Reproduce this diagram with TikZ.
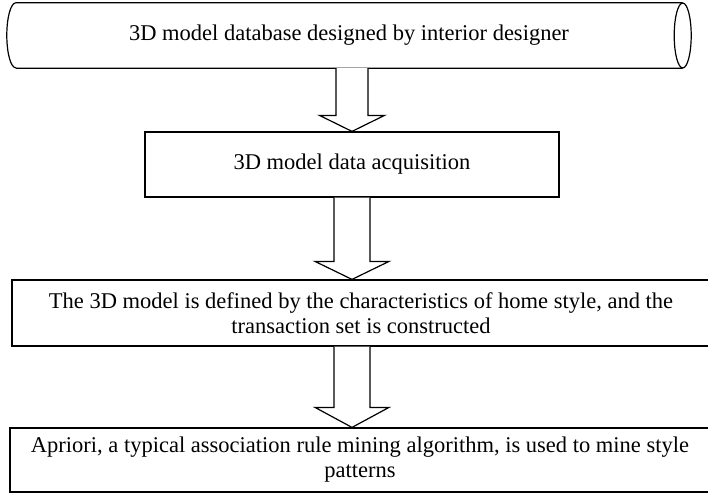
\documentclass[tikz,border=0pt]{standalone}
\usepackage{fontspec}
\setmainfont{Liberation Serif}
\usetikzlibrary{calc}
\begin{document}
\begin{tikzpicture}[x=1pt,y=-1pt,
  every node/.style={font=\fontsize{22.5}{25}\selectfont},
  boxnode/.style={draw, line width=1.2pt, align=center, inner sep=0pt},
  outline/.style={line width=1.2pt},
  blockarrow/.style={draw, fill=white, line width=1.2pt, line join=miter}]
\useasboundingbox (0,0) rectangle (708,495);
% cylinder (database)
\node[align=center, minimum width=684pt, minimum height=65pt, inner sep=0pt] (cyl) at (349,35.5)
  {3D model database designed by interior designer};
\draw[outline] ([xshift=9pt]cyl.north west) -- ([xshift=-8.5pt]cyl.north east)
  ([xshift=9pt]cyl.south west) -- ([xshift=-8.5pt]cyl.south east)
  ([xshift=9pt]cyl.north west) arc[start angle=90,end angle=270,x radius=9pt,y radius=32.5pt];
\draw[outline] ([xshift=-8.5pt]cyl.east) ellipse[x radius=8.5pt,y radius=32.5pt];
% boxes
\node[boxnode, minimum width=414pt, minimum height=65pt] (acq) at (352,164.5)
  {3D model data acquisition};
\node[boxnode, minimum width=698pt, minimum height=66pt] (def) at (361,313)
  {The 3D model is defined by the characteristics of home style, and the\\transaction set is constructed};
\node[boxnode, minimum width=700pt, minimum height=64pt] (apr) at (360,460)
  {Apriori, a typical association rule mining algorithm, is used to mine style\\patterns};
% block arrows
\coordinate (ax) at (352,0);
\draw[blockarrow] let \p1=(ax |- cyl.south), \p2=(ax |- acq.north) in
  (\x1-16pt,\y1) -- (\x1-16pt,\y2+16pt) -- (\x1-32.5pt,\y2+16pt) -- (\x2,\y2)
  -- (\x1+32.5pt,\y2+16pt) -- (\x1+16pt,\y2+16pt) -- (\x1+16pt,\y1);
\draw[blockarrow] let \p1=(ax |- acq.south), \p2=(ax |- def.north) in
  (\x1-18pt,\y1) -- (\x1-18pt,\y2+18pt) -- (\x1-37pt,\y2+18pt) -- (\x2,\y2)
  -- (\x1+37pt,\y2+18pt) -- (\x1+18pt,\y2+18pt) -- (\x1+18pt,\y1);
\draw[blockarrow] let \p1=(ax |- def.south), \p2=(ax |- apr.north) in
  (\x1-18pt,\y1) -- (\x1-18pt,\y2+20pt) -- (\x1-37pt,\y2+20pt) -- (\x2,\y2)
  -- (\x1+37pt,\y2+20pt) -- (\x1+18pt,\y2+20pt) -- (\x1+18pt,\y1);
\end{tikzpicture}
\end{document}
